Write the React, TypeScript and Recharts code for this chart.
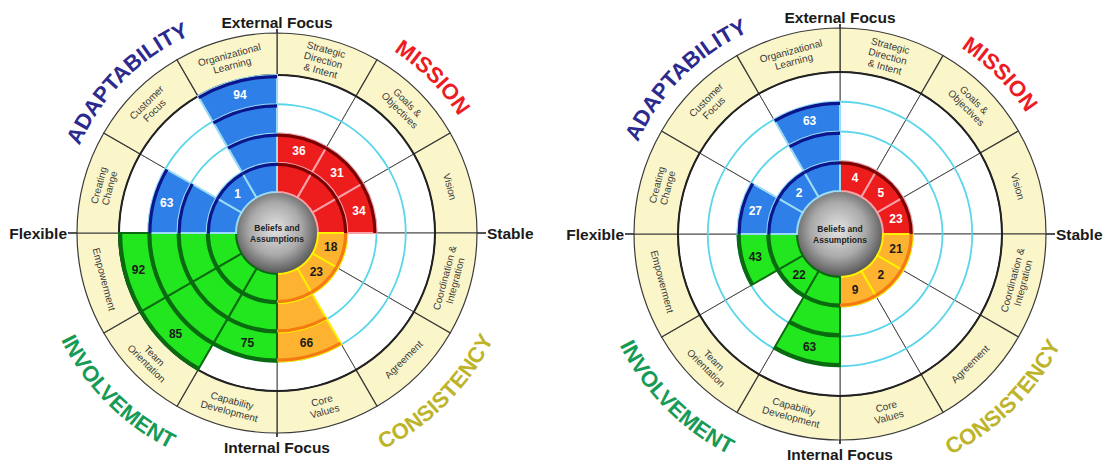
import React from "react";
import { PieChart, Pie, Cell, Customized } from "recharts";

// ---------- data ----------
const segmentNames = [
  "Strategic Direction & Intent",
  "Goals & Objectives",
  "Vision",
  "Coordination & Integration",
  "Agreement",
  "Core Values",
  "Capability Development",
  "Team Orientation",
  "Empowerment",
  "Creating Change",
  "Customer Focus",
  "Organizational Learning",
];
const segmentLabelLines = [
  ["Strategic", "Direction", "& Intent"],
  ["Goals &", "Objectives"],
  ["Vision"],
  ["Coordination &", "Integration"],
  ["Agreement"],
  ["Core", "Values"],
  ["Capability", "Development"],
  ["Team", "Orientation"],
  ["Empowerment"],
  ["Creating", "Change"],
  ["Customer", "Focus"],
  ["Organizational", "Learning"],
];
const traitNames = ["MISSION", "CONSISTENCY", "INVOLVEMENT", "ADAPTABILITY"];
const traitOfSegment = [0, 0, 0, 1, 1, 1, 2, 2, 2, 3, 3, 3];
const leftScores = [36, 31, 34, 18, 23, 66, 75, 85, 92, 63, 1, 94];
const rightScores = [4, 5, 23, 21, 2, 9, 63, 22, 43, 27, 2, 63];
const quartiles = [25, 50, 75, 100];
const axisLabels = ["External Focus", "Stable", "Internal Focus", "Flexible"];
const centerLabel = ["Beliefs and", "Assumptions"];

// ---------- styles ----------
const FONT = "'Liberation Sans', Arial, Helvetica, sans-serif";
const traitStyle = [
  { fill: "#ee1d1d", dark: "#7d0000", edge: "#f6a2a8", text: "#ffffff", title: "#ec1c24", titleAngle: 45 },
  { fill: "#fdb330", dark: "#f47b12", edge: "#fff200", text: "#1a1a1a", title: "#bdb42a", titleAngle: 135 },
  { fill: "#22e61e", dark: "#0a6a10", edge: "#0a6a10", text: "#1a1a1a", title: "#169a55", titleAngle: 225 },
  { fill: "#2e80e8", dark: "#0b158c", edge: "#9adcf6", text: "#ffffff", title: "#2c2a8e", titleAngle: 315 },
];

const RAD = Math.PI / 180;
const polar = (cx: number, cy: number, r: number, angle: number) => [
  cx + r * Math.cos(-angle * RAD),
  cy + r * Math.sin(-angle * RAD),
];
const compass = (cx: number, cy: number, r: number, theta: number) => [
  cx + r * Math.sin(theta * RAD),
  cy - r * Math.cos(theta * RAD),
];
const bandCount = (score: number) => quartiles.filter((q) => score > q - 25).length;

function arcPath(cx: number, cy: number, r: number, mid: number, span: number, clockwise: boolean) {
  const a0 = clockwise ? mid - span : mid + span;
  const a1 = clockwise ? mid + span : mid - span;
  const [x0, y0] = compass(cx, cy, r, a0);
  const [x1, y1] = compass(cx, cy, r, a1);
  return `M ${x0} ${y0} A ${r} ${r} 0 0 ${clockwise ? 1 : 0} ${x1} ${y1}`;
}

type Geo = { id: string; cx: number; cy: number; r0: number; rb: number; ro: number };

function AxisLines({ cx, cy, ro }: Geo) {
  return (
    <g>
      <line x1={cx - ro - 9} y1={cy} x2={cx + ro + 9} y2={cy} stroke="#1a1a1a" strokeWidth={1.6} />
      <line x1={cx} y1={cy - ro - 4} x2={cx} y2={cy + ro + 4} stroke="#1a1a1a" strokeWidth={1.6} />
    </g>
  );
}

function Overlay({ id, cx, cy, r0, ro }: Geo) {
  return (
    <g>
      <defs>
        <radialGradient id={`ball-${id}`} cx="48%" cy="45%" r="58%">
          <stop offset="0%" stopColor="#e4e4e4" />
          <stop offset="55%" stopColor="#a9a9a9" />
          <stop offset="100%" stopColor="#4a4a4a" />
        </radialGradient>
        {traitStyle.map((t, i) => (
          <path
            key={i}
            id={`arc-${id}-${i}`}
            d={
              t.titleAngle < 90 || t.titleAngle > 270
                ? arcPath(cx, cy, ro + 16, t.titleAngle, 70, true)
                : arcPath(cx, cy, ro + 41, t.titleAngle, 70, false)
            }
            fill="none"
          />
        ))}
      </defs>
      <circle cx={cx} cy={cy} r={r0} fill={`url(#ball-${id})`} stroke="#777" strokeWidth={0.8} />
      {centerLabel.map((s, j) => (
        <text
          key={j}
          x={cx}
          y={cy + (j - 0.5) * 11}
          textAnchor="middle"
          dominantBaseline="central"
          fontFamily={FONT}
          fontWeight="bold"
          fontSize={8.5}
          fill="#222"
        >
          {s}
        </text>
      ))}
      <text x={cx} y={cy - ro - 11} textAnchor="middle" dominantBaseline="central" fontFamily={FONT} fontWeight="bold" fontSize={15.5} fill="#1a1a1a">
        {axisLabels[0]}
      </text>
      <text x={cx + ro + 10} y={cy} textAnchor="start" dominantBaseline="central" fontFamily={FONT} fontWeight="bold" fontSize={15.5} fill="#1a1a1a">
        {axisLabels[1]}
      </text>
      <text x={cx} y={cy + ro + 14} textAnchor="middle" dominantBaseline="central" fontFamily={FONT} fontWeight="bold" fontSize={15.5} fill="#1a1a1a">
        {axisLabels[2]}
      </text>
      <text x={cx - ro - 10} y={cy} textAnchor="end" dominantBaseline="central" fontFamily={FONT} fontWeight="bold" fontSize={15.5} fill="#1a1a1a">
        {axisLabels[3]}
      </text>
      {traitStyle.map((t, i) => (
        <text key={i} fontFamily={FONT} fontWeight="bold" fontSize={22} fill={t.title}>
          <textPath href={`#arc-${id}-${i}`} startOffset="50%" textAnchor="middle">
            {traitNames[i]}
          </textPath>
        </text>
      ))}
    </g>
  );
}

function Circumplex({ geo, scores }: { geo: Geo; scores: number[] }) {
  const { cx, cy, r0, rb, ro } = geo;
  const w = (rb - r0) / 4;
  const segData = segmentNames.map((name) => ({ name, value: 1 }));
  const ring = [{ name: "ring", value: 1 }];

  const beigeLabel = (props: any) => {
    const i = props.index;
    const mid = props.midAngle;
    const r = (rb + ro) / 2;
    const [x, y] = polar(cx, cy, r, mid);
    let theta = 90 - mid;
    while (theta > 180) theta -= 360;
    while (theta <= -180) theta += 360;
    let rot = Math.abs(theta) < 90 ? theta : theta - 180;
    while (rot > 180) rot -= 360;
    while (rot <= -180) rot += 360;
    const lines = segmentLabelLines[i];
    return (
      <g key={`bl-${i}`} transform={`translate(${x},${y}) rotate(${rot})`}>
        {lines.map((s, j) => (
          <text
            key={j}
            x={0}
            y={(j - (lines.length - 1) / 2) * 11}
            textAnchor="middle"
            dominantBaseline="central"
            fontFamily={FONT}
            fontSize={10}
            fill="#3a3a3a"
          >
            {s}
          </text>
        ))}
      </g>
    );
  };

  const valueLabel = (k: number) => (props: any) => {
    const i = props.index;
    if (bandCount(scores[i]) !== k + 1) return <g key={`vl-${k}-${i}`} />;
    const r = r0 + (k + 0.5) * w;
    const [x, y] = polar(cx, cy, r, props.midAngle);
    return (
      <text
        key={`vl-${k}-${i}`}
        x={x}
        y={y}
        textAnchor="middle"
        dominantBaseline="central"
        fontFamily={FONT}
        fontWeight="bold"
        fontSize={12}
        fill={traitStyle[traitOfSegment[i]].text}
      >
        {scores[i]}
      </text>
    );
  };

  return (
    <PieChart width={553} height={463} margin={{ top: 0, right: 0, bottom: 0, left: 0 }}>
      <Pie
        data={segData}
        dataKey="value"
        cx={cx}
        cy={cy}
        innerRadius={r0}
        outerRadius={rb}
        startAngle={90}
        endAngle={-270}
        fill="#ffffff"
        stroke="#4a4a4a"
        strokeWidth={1}
        isAnimationActive={false}
      />
      <Pie
        data={segData}
        dataKey="value"
        cx={cx}
        cy={cy}
        innerRadius={rb}
        outerRadius={ro}
        startAngle={90}
        endAngle={-270}
        fill="#fbf6c9"
        stroke="#3a3a3a"
        strokeWidth={1.2}
        label={beigeLabel}
        labelLine={false}
        isAnimationActive={false}
      />
      <Pie
        data={ring}
        dataKey="value"
        cx={cx}
        cy={cy}
        innerRadius={rb - 1}
        outerRadius={rb + 1}
        startAngle={90}
        endAngle={-270}
        fill="#222"
        stroke="none"
        isAnimationActive={false}
      />
      <Customized component={<AxisLines {...geo} />} />
      {[1, 2, 3].map((k) => (
        <Pie
          key={`cy-${k}`}
          data={ring}
          dataKey="value"
          cx={cx}
          cy={cy}
          innerRadius={r0 + k * w - 0.9}
          outerRadius={r0 + k * w + 0.9}
          startAngle={90}
          endAngle={-270}
          fill="#5ad6ea"
          stroke="none"
          isAnimationActive={false}
        />
      ))}
      {quartiles.map((q, k) => (
        <Pie
          key={`band-${q}`}
          data={segData}
          dataKey="value"
          cx={cx}
          cy={cy}
          innerRadius={r0 + k * w}
          outerRadius={r0 + (k + 1) * w}
          startAngle={90}
          endAngle={-270}
          isAnimationActive={false}
          labelLine={false}
          label={valueLabel(k)}
        >
          {segData.map((d, i) => {
            const filled = bandCount(scores[i]) > k;
            const st = traitStyle[traitOfSegment[i]];
            return (
              <Cell
                key={d.name}
                fill={filled ? st.fill : "none"}
                stroke={filled ? st.edge : "none"}
                strokeWidth={filled ? 2 : 0}
              />
            );
          })}
        </Pie>
      ))}
      {quartiles.map((q, k) => (
        <Pie
          key={`rim-${q}`}
          data={segData}
          dataKey="value"
          cx={cx}
          cy={cy}
          innerRadius={r0 + (k + 1) * w - 3.2}
          outerRadius={r0 + (k + 1) * w}
          startAngle={90}
          endAngle={-270}
          stroke="none"
          isAnimationActive={false}
        >
          {segData.map((d, i) => {
            const filled = bandCount(scores[i]) > k;
            const st = traitStyle[traitOfSegment[i]];
            return <Cell key={d.name} fill={filled ? st.dark : "none"} />;
          })}
        </Pie>
      ))}
      <Customized component={<Overlay {...geo} />} />
    </PieChart>
  );
}

const leftGeo: Geo = { id: "l", cx: 277, cy: 233, r0: 41, rb: 158, ro: 200 };
const rightGeo: Geo = { id: "r", cx: 287, cy: 234, r0: 43, rb: 162, ro: 206 };

export default function App() {
  return (
    <div style={{ position: "absolute", left: 0, top: 0, width: 1106, height: 463, display: "flex", background: "#fff" }}>
      <Circumplex geo={leftGeo} scores={leftScores} />
      <Circumplex geo={rightGeo} scores={rightScores} />
    </div>
  );
}
